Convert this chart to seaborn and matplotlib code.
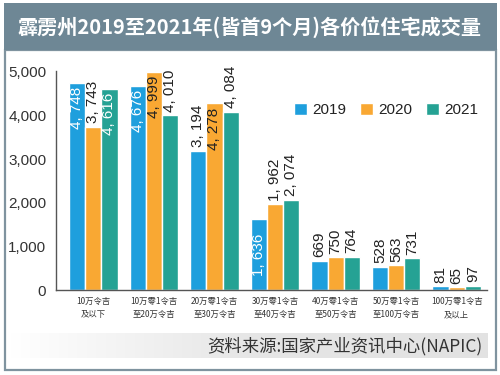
import numpy as np
import pandas as pd
import matplotlib
matplotlib.use("Agg")
import matplotlib.pyplot as plt
from matplotlib.patches import Rectangle
from matplotlib.colors import LinearSegmentedColormap
import seaborn as sns

# data
categories = ["10万令吉\n及以下", "10万零1令吉\n至20万令吉", "20万零1令吉\n至30万令吉",
              "30万零1令吉\n至40万令吉", "40万零1令吉\n至50万令吉", "50万零1令吉\n至100万令吉",
              "100万零1令吉\n及以上"]
years = ["2019", "2020", "2021"]
values_2019 = [4748, 4676, 3194, 1636, 669, 528, 81]
values_2020 = [3743, 4999, 4278, 1962, 750, 563, 65]
values_2021 = [4616, 4010, 4084, 2074, 764, 731, 97]
yticks = [0, 1000, 2000, 3000, 4000, 5000]

title = "霹雳州2019至2021年(皆首9个月)各价位住宅成交量"
source = "资料来源:国家产业资讯中心(NAPIC)"

# which value labels sit inside the bar top (year, category index)
inside = {("2019", 0), ("2021", 0), ("2019", 1), ("2020", 1), ("2020", 2), ("2019", 3)}

colors = {"2019": "#1e9fdd", "2020": "#f9a833", "2021": "#25a294"}
CJK = ["Noto Sans CJK SC", "DejaVu Sans"]

sns.set_style("white")
plt.rcParams["font.family"] = ["Liberation Sans", "Noto Sans CJK SC"]

df = pd.DataFrame({
    "cat": categories * 3,
    "year": [y for y in years for _ in categories],
    "value": values_2019 + values_2020 + values_2021,
})
vals = {"2019": values_2019, "2020": values_2020, "2021": values_2021}

fig = plt.figure(figsize=(5, 3.75), dpi=100)
W, H = 500, 375

# frame, title bar, source band
fig.patches.append(Rectangle((5 / W, 1 - 370 / H), 491 / W, 320 / H, transform=fig.transFigure,
                             facecolor="white", edgecolor="#7f939f", lw=1.6, zorder=-5))
fig.patches.append(Rectangle((4 / W, 1 - 50 / H), 493 / W, 47 / H, transform=fig.transFigure,
                             facecolor="#6e8795", edgecolor="none", zorder=-4))
fig.text(250 / W, 1 - 27 / H, title, color="white", fontsize=14.5, fontweight="bold",
         family=CJK, ha="center", va="center")

band = fig.add_axes([10 / W, 1 - 358 / H, 478 / W, 25 / H])
band.imshow(np.linspace(0, 1, 256)[None, :], aspect="auto",
            cmap=LinearSegmentedColormap.from_list("g", ["#ffffff", "#e6e6e6", "#e2e2e2"]))
band.axis("off")
fig.text(482 / W, 1 - 346 / H, source, fontsize=12.5, color="#333333", family=CJK,
         ha="right", va="center")

ax = fig.add_axes([56 / W, 1 - 290 / H, 431 / W, 219 / H])
ax.patch.set_alpha(0)
sns.barplot(data=df, x="cat", y="value", hue="year", order=categories, hue_order=years,
            palette=colors, saturation=1, width=0.8, ax=ax)

ax.set_xlim(-0.616, 6.5)
ax.set_ylim(0, 5020)
ax.set_xlabel("")
ax.set_ylabel("")
ax.set_yticks(yticks)
ax.set_yticklabels([f"{v:,}" for v in yticks], fontsize=11, color="#333333")
ax.tick_params(axis="y", direction="in", length=6, width=1, color="#555555", pad=7)
ax.set_xticks(range(len(categories)))
ax.set_xticklabels(categories, fontsize=6, family=CJK, color="#333333", linespacing=1.6)
ax.tick_params(axis="x", length=0, pad=5)
ax.set_xticks(np.arange(0.5, 7, 1), minor=True)
ax.tick_params(axis="x", which="minor", direction="in", length=4, width=1, color="#555555")
for s in ["top", "right"]:
    ax.spines[s].set_visible(False)
for s in ["left", "bottom"]:
    ax.spines[s].set_color("#555555")
    ax.spines[s].set_linewidth(1)

# value labels
for year, cont in zip(years, ax.containers):
    for j, bar in enumerate(cont):
        v = vals[year][j]
        x = bar.get_x() + bar.get_width() / 2
        y = bar.get_height()
        txt = f"{v:,}".replace(",", ", ")
        if (year, j) in inside:
            off = -11 if v < 2000 else -3
            col = "#222222" if year == "2020" else "white"
            ax.annotate(txt, (x, y), xytext=(0, off), textcoords="offset points",
                        rotation=90, ha="center", va="top", fontsize=11, color=col)
        else:
            ax.annotate(txt, (x, y), xytext=(0, 2.5), textcoords="offset points",
                        rotation=90, ha="center", va="bottom", fontsize=11, color="#222222")

leg = ax.legend(loc="center", bbox_to_anchor=(386 / W, 1 - 110 / H), bbox_transform=fig.transFigure,
                ncol=3, frameon=False, fontsize=11, handlelength=0.85, handleheight=0.85,
                handletextpad=0.35, columnspacing=0.9, borderpad=0)
for t in leg.get_texts():
    t.set_color("#222222")

fig.savefig("out.png", dpi=100)
